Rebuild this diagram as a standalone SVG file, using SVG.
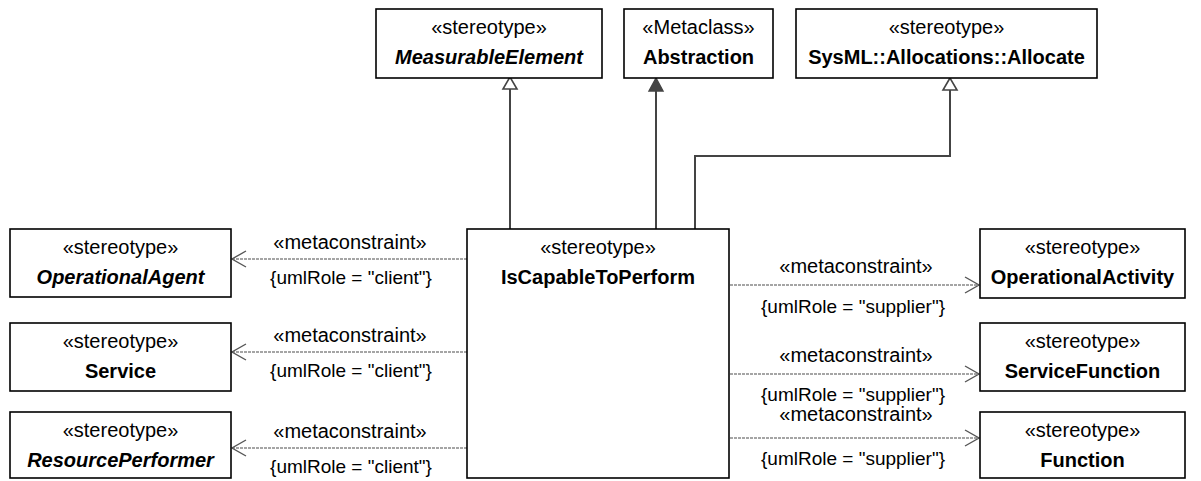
<svg xmlns="http://www.w3.org/2000/svg" width="1201" height="481" viewBox="0 0 1201 481">
<style>
.box{fill:#fff;stroke:#000;stroke-width:1.6}
text{font-family:"Liberation Sans",Arial,sans-serif;font-size:20px;fill:#000;text-anchor:middle}
.n{font-weight:bold}
.i{font-style:italic}
.r{font-size:19px}
.dep{fill:none;stroke:#888;stroke-width:1.4;stroke-dasharray:3,1}
.gen{fill:none;stroke:#444;stroke-width:2}
.head{fill:none;stroke:#555;stroke-width:1.4}
</style>
<rect width="1201" height="481" fill="#fff"/>
<g id="connectors">
  <path class="gen" d="M510,229 V89"/>
  <path d="M510,77 L503,89 L517,89 Z" fill="#fff" stroke="#444" stroke-width="1.6"/>
  <path class="gen" d="M656,229 V90"/>
  <path d="M656,78 L649,91 L663,91 Z" fill="#444" stroke="#444" stroke-width="1.4"/>
  <path class="gen" d="M695,229 V156 H950 V90"/>
  <path d="M950,78 L943,90 L957,90 Z" fill="#fff" stroke="#444" stroke-width="1.6"/>

  <path class="dep" d="M467,259 H232"/>
  <path class="head" d="M246,251 L232,259 L246,267"/>
  <path class="dep" d="M467,352 H232"/>
  <path class="head" d="M246,344 L232,352 L246,360"/>
  <path class="dep" d="M467,448 H232"/>
  <path class="head" d="M246,440 L232,448 L246,456"/>

  <path class="dep" d="M730,285 H979"/>
  <path class="head" d="M965,277 L979,285 L965,293"/>
  <path class="dep" d="M730,374 H979"/>
  <path class="head" d="M965,366 L979,374 L965,382"/>
  <path class="dep" d="M730,438 H979"/>
  <path class="head" d="M965,430 L979,438 L965,446"/>

  <text x="350" y="249">«metaconstraint»</text>
  <text class="r" x="351" y="284">{umlRole = "client"}</text>
  <text x="350" y="342">«metaconstraint»</text>
  <text class="r" x="351" y="377">{umlRole = "client"}</text>
  <text x="350" y="438">«metaconstraint»</text>
  <text class="r" x="351" y="473">{umlRole = "client"}</text>

  <text x="856" y="273">«metaconstraint»</text>
  <text class="r" x="853" y="313">{umlRole = "supplier"}</text>
  <text x="856" y="362">«metaconstraint»</text>
  <text class="r" x="853" y="401">{umlRole = "supplier"}</text>
  <text x="856" y="421">«metaconstraint»</text>
  <text class="r" x="853" y="465">{umlRole = "supplier"}</text>
</g>
<g id="MeasurableElement">
  <rect class="box" x="376" y="9" width="226" height="69"/>
  <text x="489" y="34">«stereotype»</text>
  <text class="n i" x="489" y="64">MeasurableElement</text>
</g>
<g id="Abstraction">
  <rect class="box" x="624" y="9" width="149" height="69"/>
  <text x="698.5" y="34">«Metaclass»</text>
  <text class="n" x="698.5" y="64">Abstraction</text>
</g>
<g id="Allocate">
  <rect class="box" x="796" y="9" width="301" height="69"/>
  <text x="946.5" y="34">«stereotype»</text>
  <text class="n" x="946.5" y="64">SysML::Allocations::Allocate</text>
</g>
<g id="IsCapableToPerform">
  <rect class="box" x="467" y="229" width="262" height="249"/>
  <text x="598" y="254">«stereotype»</text>
  <text class="n" x="598" y="284">IsCapableToPerform</text>
</g>
<g id="OperationalAgent">
  <rect class="box" x="10" y="229" width="221" height="68"/>
  <text x="120.5" y="254">«stereotype»</text>
  <text class="n i" x="120.5" y="284">OperationalAgent</text>
</g>
<g id="Service">
  <rect class="box" x="10" y="323" width="221" height="68"/>
  <text x="120.5" y="348">«stereotype»</text>
  <text class="n" x="120.5" y="378">Service</text>
</g>
<g id="ResourcePerformer">
  <rect class="box" x="10" y="412" width="221" height="66"/>
  <text x="120.5" y="437">«stereotype»</text>
  <text class="n i" x="120.5" y="467">ResourcePerformer</text>
</g>
<g id="OperationalActivity">
  <rect class="box" x="980" y="229" width="205" height="69"/>
  <text x="1082.5" y="254">«stereotype»</text>
  <text class="n" x="1082.5" y="284">OperationalActivity</text>
</g>
<g id="ServiceFunction">
  <rect class="box" x="980" y="323" width="205" height="68"/>
  <text x="1082.5" y="348">«stereotype»</text>
  <text class="n" x="1082.5" y="378">ServiceFunction</text>
</g>
<g id="Function">
  <rect class="box" x="980" y="412" width="205" height="66"/>
  <text x="1082.5" y="437">«stereotype»</text>
  <text class="n" x="1082.5" y="467">Function</text>
</g>
</svg>
